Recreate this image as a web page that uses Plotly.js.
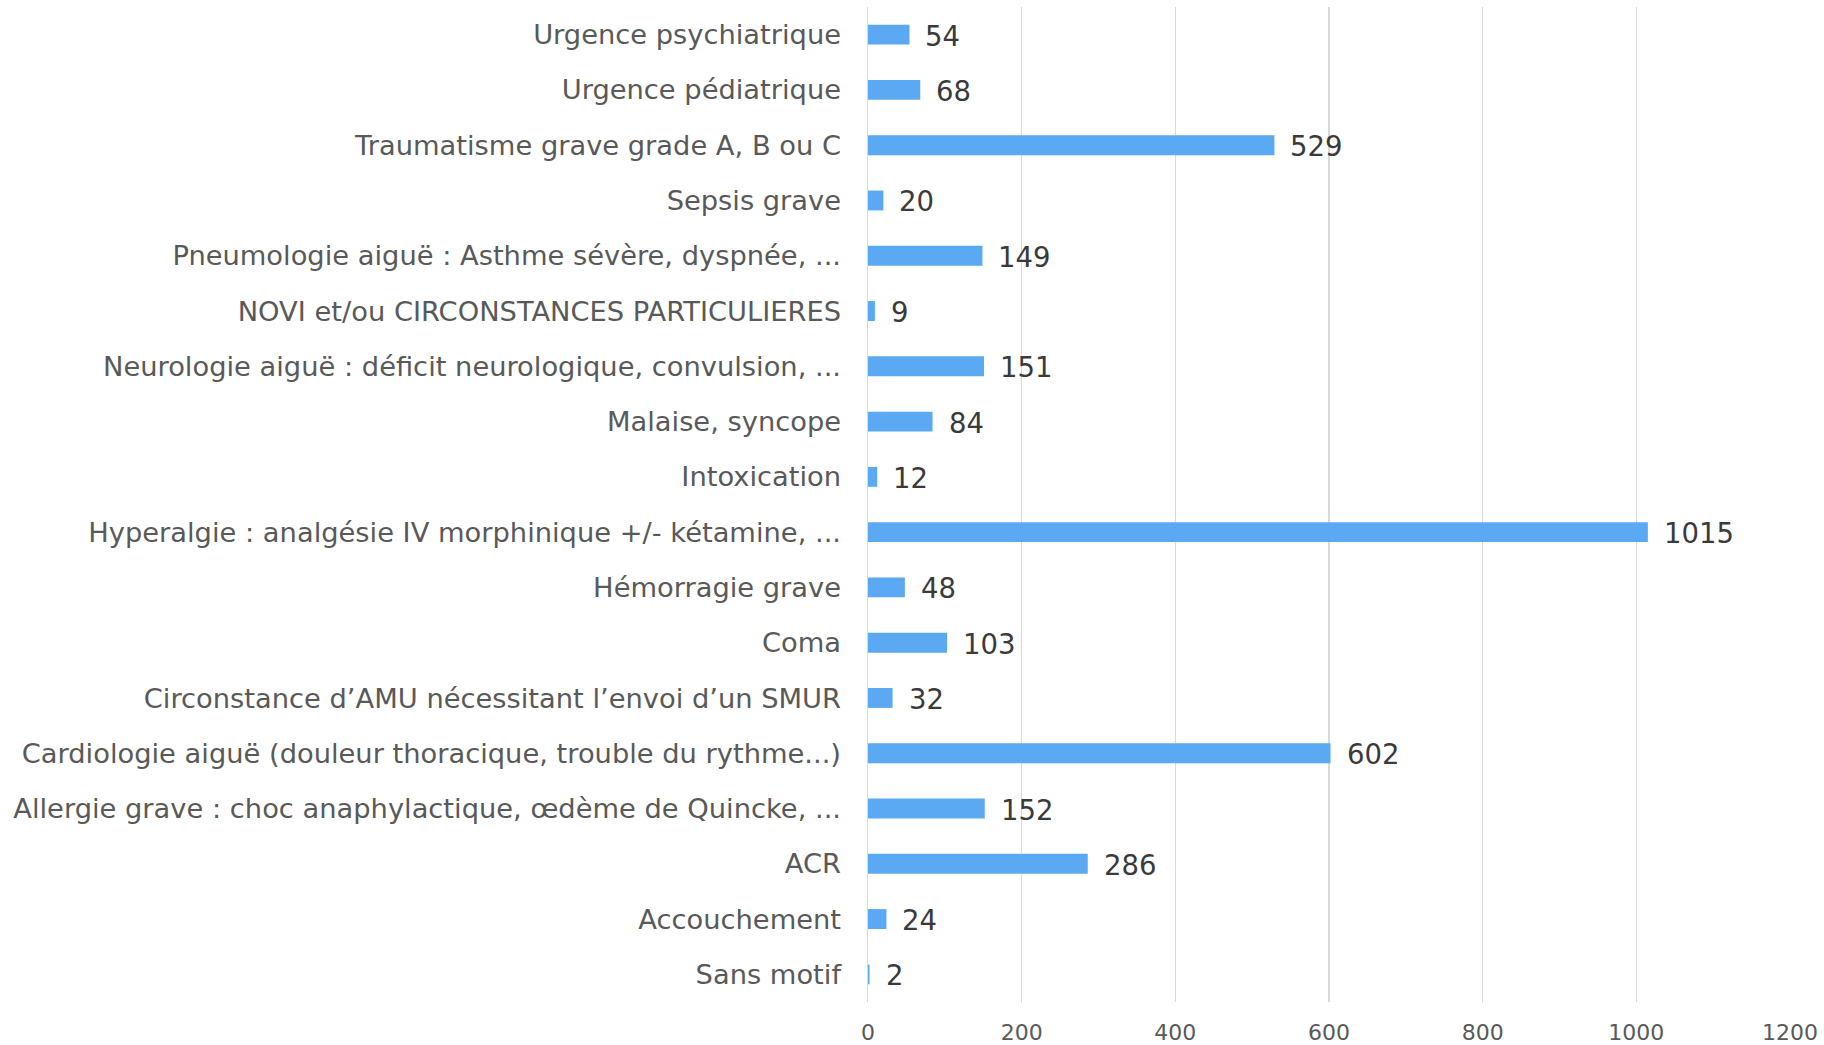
<!DOCTYPE html>
<html>
<head>
<meta charset="utf-8">
<script src="https://cdn.plot.ly/plotly-3.0.1.min.js"></script>
<style>html,body{margin:0;padding:0;background:#fff;}#chart{width:1824px;height:1045px;}</style>
</head>
<body>
<div id="chart"></div>
<script>
// Categories listed bottom-to-top (as in the original chart)
const categories = [
  "Sans motif",
  "Accouchement",
  "ACR",
  "Allergie grave : choc anaphylactique, œdème de Quincke, ...",
  "Cardiologie aiguë (douleur thoracique, trouble du rythme...)",
  "Circonstance d’AMU nécessitant l’envoi d’un SMUR",
  "Coma",
  "Hémorragie grave",
  "Hyperalgie : analgésie IV morphinique +/- kétamine, ...",
  "Intoxication",
  "Malaise, syncope",
  "Neurologie aiguë : déficit neurologique, convulsion, ...",
  "NOVI et/ou CIRCONSTANCES PARTICULIERES",
  "Pneumologie aiguë : Asthme sévère, dyspnée, ...",
  "Sepsis grave",
  "Traumatisme grave grade A, B ou C",
  "Urgence pédiatrique",
  "Urgence psychiatrique"
];
const values = [2, 24, 286, 152, 602, 32, 103, 48, 1015, 12, 84, 151, 9, 149, 20, 529, 68, 54];
const xTicks = [0, 200, 400, 600, 800, 1000, 1200];

const FONT = "DejaVu Sans, sans-serif";

const trace = {
  type: "bar",
  orientation: "h",
  y: categories,
  x: values,
  width: 0.36,
  marker: {color: "#5AA9F2"},
  hoverinfo: "x+y"
};

const annotations = categories.map((c, i) => ({
  x: values[i], y: c, xref: "x", yref: "y",
  text: String(values[i]), showarrow: false,
  xanchor: "left", yanchor: "middle", xshift: 14, yshift: -1,
  font: {family: FONT, size: 27.5, color: "#3a3a3a"}
}));

const layout = {
  width: 1824, height: 1045,
  margin: {l: 868, r: 34, t: 7, b: 43},
  paper_bgcolor: "#ffffff", plot_bgcolor: "#ffffff",
  showlegend: false,
  xaxis: {
    range: [0, 1200],
    tickvals: xTicks,
    ticktext: xTicks.map(String),
    showgrid: true, gridcolor: "#d9d9d9", gridwidth: 1.5,
    zeroline: false,
    showline: false,
    ticks: "outside", ticklen: 11, tickcolor: "rgba(0,0,0,0)",
    tickfont: {family: FONT, size: 22, color: "#595959"},
    fixedrange: true
  },
  yaxis: {
    type: "category",
    showgrid: false,
    zeroline: false,
    showline: true, linecolor: "#d9d9d9", linewidth: 1.5,
    ticks: "outside", ticklen: 20, tickcolor: "rgba(0,0,0,0)",
    tickfont: {family: FONT, size: 27.3, color: "#595959"},
    automargin: false,
    fixedrange: true
  },
  annotations: annotations
};

Plotly.newPlot("chart", [trace], layout, {displayModeBar: false, staticPlot: true});
</script>
</body>
</html>
